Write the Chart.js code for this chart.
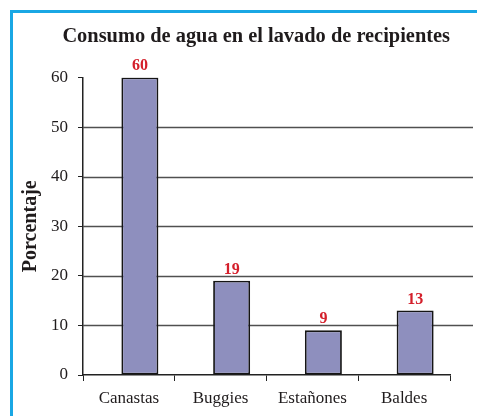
<!DOCTYPE html>
<html lang="es">
<head>
<meta charset="utf-8">
<title>Consumo de agua en el lavado de recipientes</title>
<script src="https://cdn.jsdelivr.net/npm/chart.js@4.4.0/dist/chart.umd.min.js"></script>
<style>
  html, body { margin: 0; padding: 0; background: #fff; overflow: hidden; }
  #marco {
    position: absolute; left: 10px; top: 10px;
    width: 520px; height: 460px;
    border: 3px solid #19a7e4;
    box-sizing: border-box;
  }
  #grafico { position: absolute; left: 0; top: 0; }
</style>
</head>
<body>
<div id="marco"></div>
<canvas id="grafico" width="477" height="416"></canvas>
<script>
// datos
const categorias = ['Canastas', 'Buggies', 'Estañones', 'Baldes'];
const porcentajes = [60, 19, 9, 13];
const serieVacia = [];   // serie en blanco, desplaza las barras como en el original
const marcasY = [0, 10, 20, 30, 40, 50, 60];

const fuente = "'Liberation Serif', 'Times New Roman', serif";
const colorTexto = '#1f1b1c';

// etiqueta roja encima de cada barra
const etiquetasValor = {
    id: 'etiquetasValor',
    afterDatasetsDraw(chart) {
        const ctx = chart.ctx;
        const meta = chart.getDatasetMeta(1);
        ctx.save();
        ctx.fillStyle = '#d41f2b';
        ctx.font = 'bold 16px ' + fuente;
        ctx.textAlign = 'center';
        ctx.textBaseline = 'alphabetic';
        meta.data.forEach((barra, i) => {
            ctx.fillText(String(porcentajes[i]), barra.x, barra.y - 7);
        });
        ctx.restore();
    }
};

// lineas de division, un poco mas largas que el eje x
const lineasGuia = {
    id: 'lineasGuia',
    beforeDatasetsDraw(chart) {
        const { ctx, chartArea, scales } = chart;
        const y = scales.y;
        ctx.save();
        ctx.strokeStyle = '#505050';
        ctx.lineWidth = 1.3;
        y.ticks.forEach(t => {
            if (t.value === y.min || t.value === y.max) return;
            const py = Math.round(y.getPixelForValue(t.value)) + 0.5;
            ctx.beginPath();
            ctx.moveTo(chartArea.left, py);
            ctx.lineTo(chartArea.right + 23, py);
            ctx.stroke();
        });
        ctx.restore();
    }
};

new Chart(document.getElementById('grafico'), {
    type: 'bar',
    data: {
        labels: categorias,
        datasets: [
            { label: '', data: serieVacia },
            {
                label: 'Porcentaje',
                data: porcentajes,
                backgroundColor: '#8e8fbe',
                borderColor: '#151515',
                borderWidth: 1.8,
                borderSkipped: false
            }
        ]
    },
    options: {
        responsive: false,
        animation: false,
        datasets: {
            bar: { categoryPercentage: 0.48, barPercentage: 1.68 }
        },
        layout: { padding: { left: 0, right: 27, top: 0, bottom: 0 } },
        scales: {
            x: {
                grid: { drawOnChartArea: false, drawTicks: true, tickLength: 6, color: '#222', offset: true },
                border: { display: true, color: '#222', width: 1.5 },
                ticks: { color: colorTexto, font: { family: fuente, size: 17 }, padding: 7, maxRotation: 0 },
                afterFit: s => { s.height = 41; }
            },
            y: {
                min: 0,
                max: 60,
                afterBuildTicks: s => { s.ticks = marcasY.map(v => ({ value: v })); },
                grid: { drawOnChartArea: false, tickLength: 5, color: '#222' },
                border: { color: '#222', width: 1.5 },
                ticks: { color: colorTexto, font: { family: fuente, size: 17 }, padding: 10 },
                title: {
                    display: true,
                    text: 'Porcentaje',
                    color: colorTexto,
                    font: { family: fuente, size: 20, weight: 'bold' },
                    padding: { top: 19, bottom: 0 }
                },
                afterFit: s => { s.width = 83; }
            }
        },
        plugins: {
            legend: { display: false },
            tooltip: { enabled: false },
            title: {
                display: true,
                align: 'end',
                text: 'Consumo de agua en el lavado de recipientes',
                color: colorTexto,
                font: { family: fuente, size: 20.4, weight: 'bold' },
                padding: { top: 24, bottom: 29 }
            }
        }
    },
    plugins: [lineasGuia, etiquetasValor]
});
</script>
</body>
</html>
